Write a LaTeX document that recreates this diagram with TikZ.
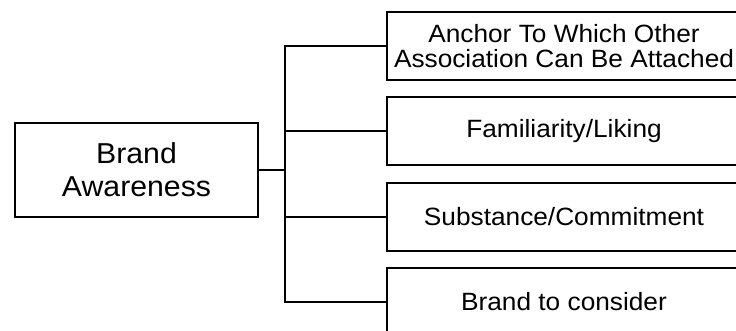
\documentclass[tikz,border=0pt]{standalone}
\usepackage{fontspec}
\newfontfamily\lsans[FakeStretch=1.05]{Liberation Sans}
\begin{document}
\begin{tikzpicture}[x=1pt,y=-1pt,
  box/.style={draw=black,line width=2.2pt,rectangle,inner sep=0pt,align=center,text=black},
  leftbox/.style={box,minimum width=243pt,minimum height=94pt,font=\lsans\fontsize{28.8}{33}\selectfont},
  rightbox/.style={box,minimum width=354pt,minimum height=68pt,font=\lsans\fontsize{25}{25}\selectfont},
  link/.style={draw=black,line width=2.2pt}]
\useasboundingbox (0,0) rectangle (736,331);
\node[leftbox] (L) at (136.5,170) {Brand\\Awareness};
\node[rightbox] (B1) at (564,46) {Anchor To Which Other\\Association Can Be Attached};
\node[rightbox] (B2) at (564,131) {Familiarity/Liking};
\node[rightbox] (B3) at (564,217) {Substance/Commitment};
\node[rightbox] (B4) at (564,302) {Brand to consider};
\coordinate (j) at (285,170);
\draw[link] (L.east) -- (j);
\draw[link] (B1.west) -- (j |- B1.west) -- (j |- B4.west) -- (B4.west);
\draw[link] (j |- B2.west) -- (B2.west);
\draw[link] (j |- B3.west) -- (B3.west);
\end{tikzpicture}
\end{document}
